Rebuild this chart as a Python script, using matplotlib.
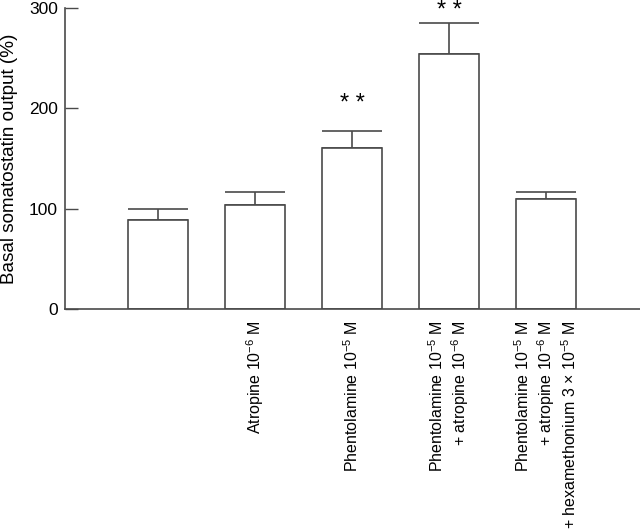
import numpy as np
import matplotlib
matplotlib.use('Agg')
import matplotlib.pyplot as plt

plt.rcParams['font.family'] = ['Liberation Sans', 'DejaVu Sans']
plt.rcParams['mathtext.fontset'] = 'custom'
plt.rcParams['mathtext.rm'] = 'Liberation Sans'
plt.rcParams['mathtext.it'] = 'Liberation Sans:italic'
plt.rcParams['mathtext.bf'] = 'Liberation Sans:bold'

# data
conditions = [
    '',
    r'Atropine 10$^{-6}$ M',
    r'Phentolamine 10$^{-5}$ M',
    'Phentolamine 10$^{-5}$ M\n+ atropine 10$^{-6}$ M',
    'Phentolamine 10$^{-5}$ M\n+ atropine 10$^{-6}$ M\n'
    r'+ hexamethonium 3 $\times$ 10$^{-5}$ M',
]
output = [89, 104, 160, 254, 110]
sem = [11, 13, 17, 31, 7]
significance = ['', '', '* *', '* *', '']
star_level = [0, 0, 204, 297, 0]

edge = '#4a4a4a'

fig = plt.figure(figsize=(6.4, 5.3), dpi=100)
ax = fig.add_axes([0.1016, 0.417, 0.8984, 0.568])

x = np.arange(len(output))
width = 0.62
ax.bar(x, output, width, color='white', edgecolor=edge, linewidth=1.2, zorder=2)
ax.errorbar(x, output, yerr=[np.zeros(len(sem)), sem], fmt='none',
            ecolor=edge, elinewidth=1.2, capsize=21.6, capthick=1.2, zorder=1)

for xi, s, lvl in zip(x, significance, star_level):
    if s:
        ax.text(xi, lvl, s, ha='center', va='center', fontsize=17)

ax.set_xlim(-0.96, 4.97)
ax.set_ylim(0, 300)
ax.set_yticks([0, 100, 200, 300])
ax.tick_params(axis='y', direction='in', length=9.5, width=1, color=edge,
               labelsize=12.5, pad=5)
ax.set_xticks(x)
ax.set_xticklabels(conditions, rotation=90, va='top', ha='center',
                   multialignment='right', fontsize=11.5)
ax.tick_params(axis='x', length=0, pad=8)

for side in ['top', 'right']:
    ax.spines[side].set_visible(False)
for side in ['left', 'bottom']:
    ax.spines[side].set_color(edge)
    ax.spines[side].set_linewidth(1.2)

ax.set_ylabel('Basal somatostatin output (%)', fontsize=13.6)
ax.yaxis.set_label_coords(-0.082, 0.5)

fig.savefig('out.png', dpi=100)
